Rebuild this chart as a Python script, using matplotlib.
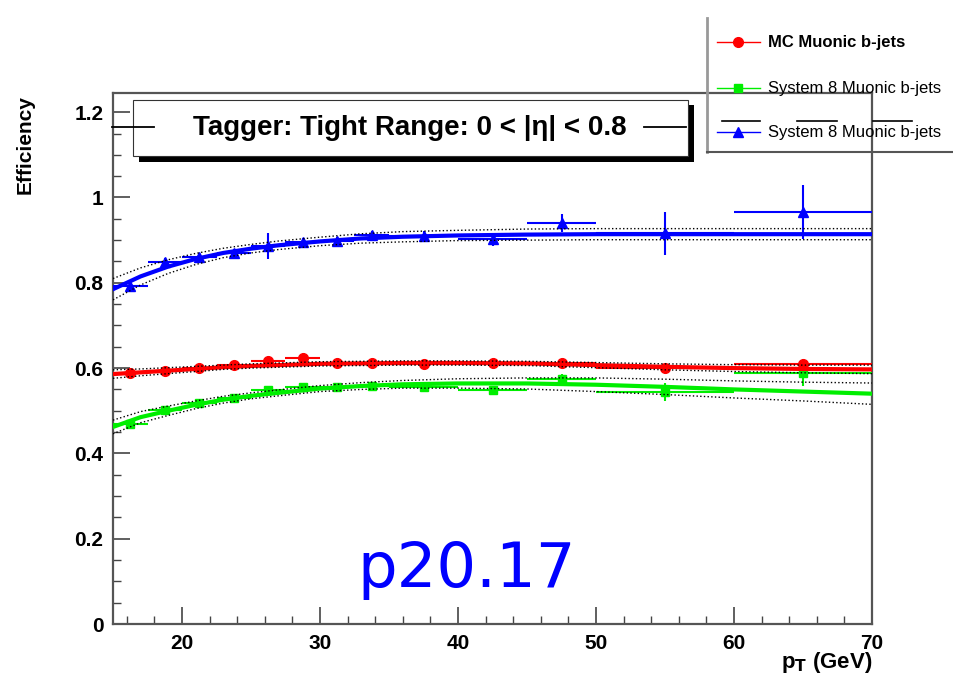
import matplotlib
matplotlib.use("Agg")
import matplotlib.pyplot as plt
import numpy as np
from matplotlib.lines import Line2D
from matplotlib.patches import Rectangle

# bins in pT (GeV)
pt = [16.25, 18.75, 21.25, 23.75, 26.25, 28.75, 31.25, 33.75, 37.5, 42.5, 47.5, 55, 65]
pt_err = [1.25, 1.25, 1.25, 1.25, 1.25, 1.25, 1.25, 1.25, 2.5, 2.5, 2.5, 5, 5]

# efficiencies
eff_mc = [0.588, 0.593, 0.600, 0.607, 0.616, 0.623, 0.611, 0.612, 0.609, 0.611, 0.611, 0.600, 0.609]
err_mc = [0.004, 0.004, 0.004, 0.004, 0.005, 0.005, 0.005, 0.005, 0.005, 0.006, 0.007, 0.008, 0.012]
eff_s8 = [0.469, 0.501, 0.518, 0.530, 0.548, 0.555, 0.555, 0.558, 0.555, 0.548, 0.574, 0.544, 0.588]
err_s8 = [0.006, 0.006, 0.006, 0.006, 0.007, 0.007, 0.007, 0.008, 0.008, 0.009, 0.012, 0.022, 0.030]
eff_bar = [0.792, 0.848, 0.860, 0.869, 0.886, 0.896, 0.898, 0.912, 0.909, 0.902, 0.940, 0.916, 0.966]
err_bar = [0.010, 0.010, 0.010, 0.010, 0.030, 0.010, 0.010, 0.010, 0.012, 0.015, 0.022, 0.050, 0.063]

# fitted curves
fit_x = [15, 17, 19, 21, 23, 25, 27, 30, 33, 36, 40, 45, 50, 55, 60, 65, 70]
fit_mc = [0.586, 0.590, 0.594, 0.598, 0.602, 0.605, 0.607, 0.610, 0.611, 0.612, 0.612, 0.611, 0.607, 0.603, 0.600, 0.598, 0.597]
fit_s8 = [0.462, 0.485, 0.500, 0.514, 0.526, 0.535, 0.542, 0.552, 0.558, 0.562, 0.564, 0.564, 0.561, 0.556, 0.550, 0.545, 0.540]
fit_bar = [0.785, 0.815, 0.838, 0.856, 0.870, 0.880, 0.888, 0.897, 0.904, 0.908, 0.911, 0.913, 0.914, 0.914, 0.914, 0.914, 0.914]
band_mc = [0.010, 0.008, 0.007, 0.006, 0.005, 0.005, 0.005, 0.005, 0.005, 0.005, 0.005, 0.005, 0.006, 0.007, 0.008, 0.009, 0.010]
band_s8 = [0.016, 0.013, 0.011, 0.009, 0.008, 0.007, 0.007, 0.007, 0.008, 0.009, 0.011, 0.013, 0.016, 0.018, 0.020, 0.022, 0.025]
band_bar = [0.025, 0.020, 0.016, 0.013, 0.011, 0.010, 0.010, 0.010, 0.011, 0.012, 0.012, 0.013, 0.013, 0.013, 0.013, 0.013, 0.013]

W, H = 954, 681

def fx(x):
    return x / W

def fy(y):
    return 1 - y / H

plt.rcParams['font.family'] = ['Liberation Sans', 'DejaVu Sans']

fig = plt.figure(figsize=(W / 100, H / 100), dpi=100)
ax = fig.add_axes([fx(113), fy(624), (872 - 113) / W, (624 - 93) / H])
ax.set_xlim(15, 70)
ax.set_ylim(0, 1.245)

series = [
    (eff_mc, err_mc, fit_mc, band_mc, 'red', 'o', 7),
    (eff_s8, err_s8, fit_s8, band_s8, '#00ee00', 's', 6),
    (eff_bar, err_bar, fit_bar, band_bar, 'blue', '^', 7),
]
for eff, err, fit, band, col, mk, ms in series:
    ax.errorbar(pt, eff, xerr=pt_err, yerr=err, fmt=mk, color=col, ms=ms,
                elinewidth=1.5, capsize=0, zorder=3)
    ax.plot(fit_x, fit, color=col, lw=3, zorder=4)
    up = np.array(fit) + np.array(band)
    lo = np.array(fit) - np.array(band)
    ax.plot(fit_x, up, color='black', lw=1, ls=':', zorder=5)
    ax.plot(fit_x, lo, color='black', lw=1, ls=':', zorder=5)

ax.set_xticks([20, 30, 40, 50, 60, 70])
ax.set_xticks(np.arange(16, 70, 2), minor=True)
ax.set_yticks([0, 0.2, 0.4, 0.6, 0.8, 1.0, 1.2])
ax.set_yticklabels(['0', '0.2', '0.4', '0.6', '0.8', '1', '1.2'])
ax.set_yticks(np.arange(0, 1.25, 0.05), minor=True)
ax.tick_params(which='both', direction='in', top=False, right=False, color='#444444')
ax.tick_params(which='major', length=12, width=1.2, labelsize=15, pad=7)
ax.tick_params(which='minor', length=6, width=1.0)
for lab in ax.get_xticklabels() + ax.get_yticklabels():
    lab.set_fontweight('bold')
for sp in ax.spines.values():
    sp.set_color('#555555')
    sp.set_linewidth(1.6)

fig.text(fx(25), fy(145), 'Efficiency', rotation=90, ha='center', va='center',
         fontsize=15, fontweight='bold')
fig.text(fx(872), fy(668), r'p$_\mathbf{T}$ (GeV)', ha='right', va='baseline',
         fontsize=16, fontweight='bold')

# title box with shadow
fig.add_artist(Rectangle((fx(139), fy(162)), (694 - 139) / W, (162 - 105) / H,
                         transform=fig.transFigure, facecolor='black', edgecolor='none', zorder=6))
fig.add_artist(Rectangle((fx(133), fy(156)), (688 - 133) / W, (156 - 100) / H,
                         transform=fig.transFigure, facecolor='white', edgecolor='#333333', lw=0.8, zorder=7))
fig.add_artist(Line2D([fx(112), fx(154)], [fy(127), fy(127)], transform=fig.transFigure,
                      color='black', lw=1.3, zorder=8))
fig.add_artist(Line2D([fx(644), fx(686)], [fy(127), fy(127)], transform=fig.transFigure,
                      color='black', lw=1.3, zorder=8))
fig.text(fx(410), fy(128), 'Tagger: Tight Range: 0 < |η| < 0.8', ha='center', va='center',
         fontsize=20, fontweight='bold', zorder=9)

# big label
fig.text(fx(467), fy(587), 'p20.17', color='blue', fontsize=45, ha='center', va='baseline',
         family='DejaVu Sans')

# legend, drawn by hand
fig.add_artist(Line2D([fx(707), fx(707)], [fy(18), fy(152)], transform=fig.transFigure,
                      color='#999999', lw=2))
fig.add_artist(Line2D([fx(707), fx(954)], [fy(152), fy(152)], transform=fig.transFigure,
                      color='#555555', lw=1.5))
entries = [('MC Muonic b-jets', 'red', 'o', 7, 42, 'bold'),
           ('System 8 Muonic b-jets', '#00ee00', 's', 6, 88, 'normal'),
           ('System 8 Muonic b-jets', 'blue', '^', 7, 132, 'normal')]
for label, col, mk, ms, yy, wt in entries:
    fig.add_artist(Line2D([fx(717), fx(760)], [fy(yy), fy(yy)], transform=fig.transFigure,
                          color=col, lw=1))
    fig.add_artist(Line2D([fx(738)], [fy(yy)], transform=fig.transFigure,
                          color=col, marker=mk, ms=ms, ls='none'))
    fig.text(fx(768), fy(yy), label, ha='left', va='center', fontsize=12, fontweight=wt)
for x0, x1 in [(722, 760), (797, 837), (873, 912)]:
    fig.add_artist(Line2D([fx(x0), fx(x1)], [fy(121), fy(121)], transform=fig.transFigure,
                          color='black', lw=1.2))

fig.savefig('out.png', dpi=100)
